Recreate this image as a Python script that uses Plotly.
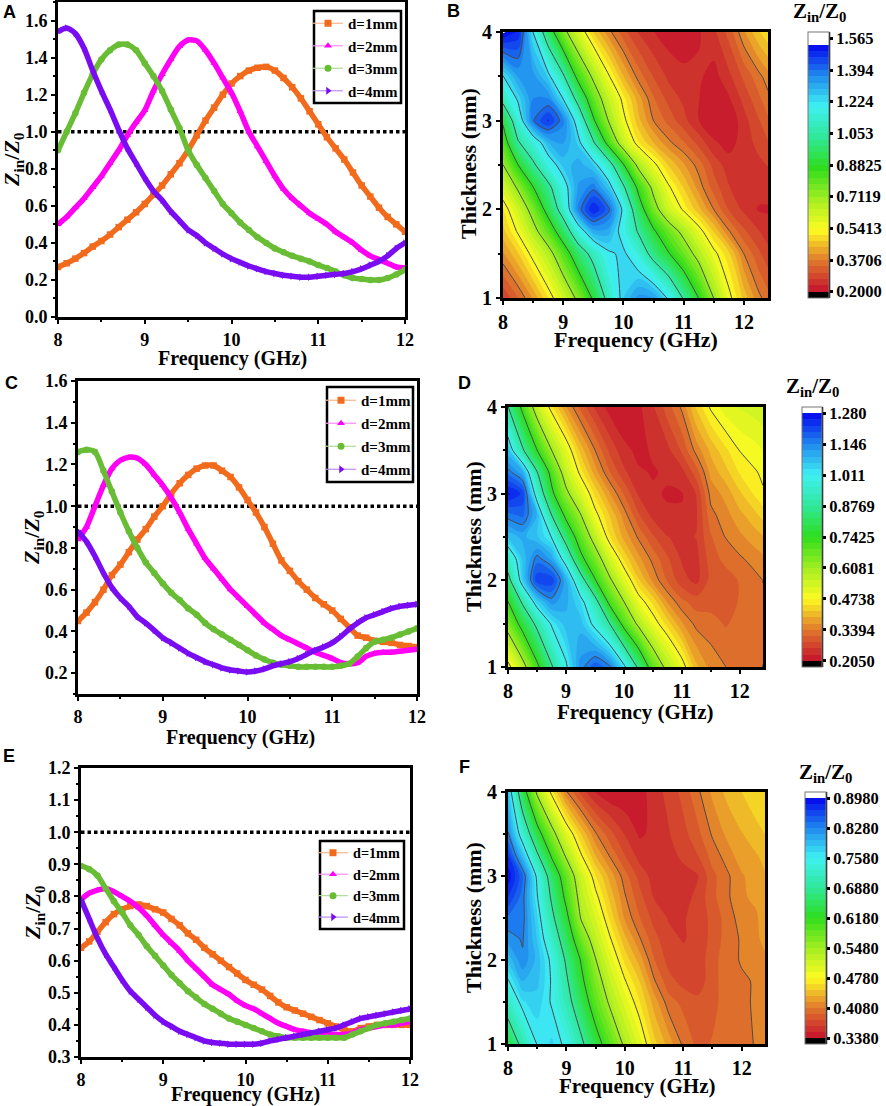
import plotly.graph_objects as go

W, H = 886, 1106

# Frequenz fuer die Linienplots
freq = [8.0, 8.1, 8.2, 8.3, 8.4, 8.5, 8.6, 8.7, 8.8, 8.9, 9.0, 9.1, 9.2, 9.3, 9.4, 9.5, 9.6, 9.7, 9.8, 9.9, 10.0,
        10.1, 10.2, 10.3, 10.4, 10.5, 10.6, 10.7, 10.8, 10.9, 11.0, 11.1, 11.2, 11.3, 11.4, 11.5, 11.6, 11.7, 11.8, 11.9, 12.0]

# Panel A
a_d1 = [.27, .29, .315, .345, .38, .41, .445, .485, .525, .565, .61, .66, .71, .77, .83, .90, .98, 1.06, 1.13, 1.20, 1.26,
        1.30, 1.33, 1.345, 1.35, 1.33, 1.29, 1.24, 1.18, 1.11, 1.04, .97, .91, .85, .78, .71, .65, .59, .54, .50, .46]
a_d2 = [.50, .54, .59, .64, .70, .76, .83, .90, .98, 1.05, 1.115, 1.22, 1.31, 1.39, 1.46, 1.495, 1.49, 1.44, 1.37, 1.29, 1.21,
        1.11, 1.00, .92, .84, .76, .69, .64, .60, .56, .53, .50, .46, .43, .40, .36, .33, .31, .29, .27, .265]
a_d3 = [.90, 1.00, 1.10, 1.21, 1.31, 1.39, 1.44, 1.47, 1.47, 1.44, 1.37, 1.30, 1.22, 1.12, 1.02, .90, .82, .75, .68, .61, .56,
        .51, .47, .43, .40, .37, .35, .33, .315, .30, .28, .265, .245, .225, .21, .205, .20, .20, .21, .23, .255]
a_d4 = [1.54, 1.56, 1.53, 1.45, 1.33, 1.22, 1.12, 1.01, .91, .83, .75, .68, .63, .57, .52, .47, .44, .40, .37, .34, .315,
        .295, .275, .26, .245, .235, .225, .22, .215, .215, .22, .225, .23, .235, .245, .26, .28, .30, .33, .37, .40]

# Panel C
c_d1 = [.45, .49, .54, .60, .67, .72, .78, .84, .89, .95, 1.00, 1.06, 1.11, 1.15, 1.18, 1.195, 1.195, 1.17, 1.14, 1.09, 1.03,
        .97, .90, .82, .74, .69, .64, .60, .56, .53, .50, .46, .42, .38, .37, .355, .35, .345, .335, .33, .325]
c_d2 = [.84, .90, 1.00, 1.10, 1.18, 1.22, 1.235, 1.23, 1.20, 1.15, 1.10, 1.04, .97, .89, .82, .75, .70, .65, .60, .56, .52,
        .48, .44, .41, .38, .36, .34, .32, .30, .285, .27, .25, .245, .25, .28, .295, .30, .30, .305, .31, .315]
c_d3 = [1.26, 1.27, 1.26, 1.17, 1.07, .97, .88, .80, .73, .68, .63, .585, .55, .51, .48, .44, .41, .385, .36, .335, .31,
        .285, .265, .25, .24, .235, .23, .23, .23, .23, .23, .235, .245, .28, .32, .35, .36, .37, .385, .40, .415]
c_d4 = [.88, .83, .76, .68, .61, .56, .52, .47, .44, .405, .37, .345, .32, .295, .275, .255, .24, .225, .215, .21, .205,
        .21, .22, .235, .245, .255, .27, .29, .31, .325, .345, .375, .41, .44, .465, .48, .495, .51, .52, .525, .53]

# Panel E
e_d1 = [.64, .66, .69, .72, .745, .76, .77, .775, .77, .76, .75, .73, .71, .685, .665, .64, .62, .60, .58, .56, .54,
        .525, .51, .49, .47, .455, .445, .435, .425, .415, .405, .395, .385, .38, .39, .395, .40, .40, .40, .40, .40]
e_d2 = [.79, .81, .82, .825, .815, .80, .785, .765, .74, .71, .68, .655, .63, .60, .575, .55, .525, .51, .495, .475, .46,
        .45, .435, .42, .405, .395, .385, .38, .375, .375, .37, .37, .37, .375, .385, .39, .395, .40, .40, .405, .41]
e_d3 = [.895, .885, .865, .825, .785, .75, .71, .68, .645, .615, .585, .555, .53, .505, .485, .465, .45, .435, .42, .41, .40,
        .39, .38, .37, .365, .36, .36, .36, .36, .36, .36, .36, .36, .37, .38, .39, .40, .405, .41, .415, .42]
e_d4 = [.79, .73, .67, .62, .58, .54, .505, .48, .455, .43, .41, .395, .38, .37, .36, .35, .345, .343, .34, .34, .34,
        .34, .343, .35, .355, .36, .365, .37, .375, .38, .385, .39, .40, .41, .42, .425, .43, .435, .44, .445, .45]

# Gitter fuer die Konturplots
grid_f = [8, 8.25, 8.5, 8.75, 9, 9.25, 9.5, 9.75, 10, 10.25, 10.5, 10.75, 11, 11.25, 11.5, 11.75, 12, 12.25, 12.4]
grid_t = [1, 1.5, 1.75, 2, 2.25, 2.5, 2.75, 3, 3.25, 3.5, 4]

b_z = [
    [.27, .335, .41, .505, .61, .74, .90, 1.10, 1.26, 1.34, 1.33, 1.21, 1.04, .88, .71, .56, .46, .38, .35],
    [.40, .47, .565, .665, .81, .97, 1.10, 1.21, 1.24, 1.15, 1.00, .89, .78, .67, .56, .48, .37, .31, .28],
    [.46, .55, .67, .80, .96, 1.16, 1.31, 1.31, 1.18, 1.04, .90, .78, .68, .57, .47, .375, .31, .27, .25],
    [.50, .62, .76, .93, 1.12, 1.37, 1.50, 1.41, 1.20, .95, .76, .62, .53, .45, .37, .30, .26, .23, .23],
    [.60, .73, .88, 1.02, 1.18, 1.33, 1.38, 1.27, 1.07, .85, .68, .55, .47, .39, .32, .27, .25, .25, .25],
    [.71, .88, 1.03, 1.17, 1.27, 1.31, 1.26, 1.12, .89, .68, .56, .47, .41, .355, .29, .25, .25, .26, .27],
    [.81, 1.04, 1.15, 1.29, 1.33, 1.25, 1.07, .84, .64, .51, .44, .38, .34, .29, .24, .22, .25, .28, .30],
    [.90, 1.15, 1.39, 1.47, 1.37, 1.17, .90, .71, .56, .45, .37, .325, .28, .235, .205, .205, .255, .30, .33],
    [1.10, 1.24, 1.36, 1.36, 1.22, 1.00, .79, .64, .52, .42, .34, .29, .26, .235, .215, .23, .28, .33, .36],
    [1.22, 1.33, 1.34, 1.25, 1.07, .84, .69, .55, .44, .355, .30, .26, .24, .24, .22, .26, .31, .36, .39],
    [1.54, 1.49, 1.22, .96, .75, .60, .47, .385, .315, .265, .235, .215, .22, .23, .26, .315, .40, .47, .50],
]
d_z = [
    [.45, .57, .72, .865, 1.00, 1.13, 1.195, 1.155, 1.03, .86, .69, .58, .50, .40, .355, .34, .325, .33, .34],
    [.65, .78, .90, 1.02, 1.08, 1.08, .99, .88, .71, .59, .50, .435, .37, .33, .325, .31, .32, .33, .33],
    [.74, .89, 1.05, 1.13, 1.10, 1.04, .92, .72, .61, .50, .44, .365, .32, .30, .30, .30, .315, .33, .335],
    [.84, 1.05, 1.22, 1.22, 1.10, .93, .75, .625, .52, .425, .36, .31, .27, .25, .295, .30, .315, .33, .34],
    [.94, 1.07, 1.16, 1.11, .97, .77, .66, .54, .44, .375, .33, .29, .255, .25, .30, .32, .335, .35, .36],
    [1.07, 1.10, 1.07, 1.01, .83, .69, .57, .45, .385, .335, .29, .26, .25, .26, .31, .34, .36, .38, .39],
    [1.16, 1.18, 1.09, .88, .72, .615, .49, .42, .355, .29, .25, .235, .235, .255, .33, .355, .385, .41, .43],
    [1.26, 1.22, .97, .765, .63, .53, .44, .37, .31, .255, .235, .23, .23, .26, .35, .375, .415, .45, .47],
    [1.16, 1.10, .88, .71, .56, .46, .38, .315, .265, .235, .23, .235, .25, .30, .375, .41, .45, .47, .48],
    [1.07, .89, .745, .61, .51, .41, .34, .28, .24, .225, .235, .25, .29, .35, .40, .44, .475, .49, .50],
    [.88, .72, .56, .455, .37, .305, .255, .22, .205, .225, .255, .30, .345, .425, .48, .515, .53, .54, .55],
]
f_z = [
    [.64, .705, .76, .775, .75, .70, .64, .59, .54, .50, .455, .43, .405, .39, .395, .40, .40, .41, .42],
    [.72, .77, .78, .755, .71, .65, .59, .54, .50, .465, .43, .40, .39, .385, .39, .40, .405, .41, .42],
    [.755, .80, .79, .755, .695, .63, .57, .52, .48, .45, .41, .385, .375, .37, .39, .40, .405, .41, .42],
    [.79, .825, .795, .75, .68, .615, .55, .50, .46, .43, .395, .375, .37, .37, .39, .40, .41, .415, .42],
    [.82, .83, .785, .725, .655, .58, .525, .48, .44, .41, .385, .37, .365, .37, .385, .40, .41, .42, .425],
    [.84, .835, .775, .70, .63, .545, .505, .46, .42, .395, .375, .365, .365, .37, .385, .40, .415, .42, .43],
    [.87, .835, .76, .68, .605, .53, .485, .445, .41, .385, .365, .36, .36, .37, .39, .405, .42, .425, .43],
    [.895, .845, .75, .66, .585, .515, .465, .43, .40, .375, .36, .36, .36, .365, .39, .405, .42, .43, .435],
    [.87, .79, .695, .61, .54, .48, .435, .405, .38, .36, .355, .36, .37, .38, .40, .415, .43, .435, .44],
    [.83, .735, .64, .565, .50, .45, .41, .385, .365, .35, .355, .365, .375, .39, .41, .425, .435, .445, .45],
    [.79, .645, .54, .47, .41, .375, .35, .34, .34, .345, .36, .37, .385, .405, .425, .44, .45, .46, .46],
]

# Farbskalen-Beschriftung
b_ticks = ["0.2000", "0.3706", "0.5413", "0.7119", "0.8825", "1.053", "1.224", "1.394", "1.565"]
d_ticks = ["0.2050", "0.3394", "0.4738", "0.6081", "0.7425", "0.8769", "1.011", "1.146", "1.280"]
f_ticks = ["0.3380", "0.4080", "0.4780", "0.5480", "0.6180", "0.6880", "0.7580", "0.8280", "0.8980"]

legend_names = ["d=1mm", "d=2mm", "d=3mm", "d=4mm"]
line_colors = ["#f26a1c", "#ff00f5", "#68bd35", "#7a0cf2"]
pale_colors = ["#f9b48c", "#ff8cf8", "#b0dc98", "#bc8cf8"]
symbols = ["square", "triangle-up", "circle", "triangle-right"]
rainbow = ["#c5122d", "#e0782c", "#fdfb22", "#a2ee22", "#2fdd1c", "#2fe89a", "#3ff0f2", "#1f88ee", "#0404ee"]

SERIF = "Liberation Serif"
SANS = "Liberation Sans"


def dom_x(l, r):
    return [l / W, r / W]


def dom_y(t, b):
    return [1 - b / H, 1 - t / H]


fig = go.Figure()
layout = {}
annots = []
shapes = []


def text(x, y, s, size, family=SERIF, angle=0):
    annots.append(dict(x=x / W, y=1 - y / H, xref="paper", yref="paper", text=s, showarrow=False,
                       xanchor="center", yanchor="middle", textangle=angle,
                       font=dict(family=family, size=size, color="black", weight="bold")))


def axes(n, box, xr, yr, xd, yd, ymin, size):
    l, t, r, b = box
    sx = "" if n == 1 else str(n)
    common = dict(showgrid=False, zeroline=False, showline=True, linecolor="black", linewidth=3, mirror=True,
                  ticks="outside", ticklen=4, tickwidth=2, tickcolor="black",
                  tickfont=dict(family=SERIF, size=size, color="black", weight="bold"))
    layout["xaxis" + sx] = dict(domain=dom_x(l, r), range=xr, anchor="y" + sx, tick0=8, dtick=xd,
                                minor=dict(dtick=xd / 2, tick0=8, ticks="outside", ticklen=2, tickwidth=1.5, tickcolor="black"),
                                **common)
    layout["yaxis" + sx] = dict(domain=dom_y(t, b), range=yr, anchor="x" + sx, tick0=ymin, dtick=yd,
                                tickformat=".1f" if yd < 1 else "d",
                                minor=dict(dtick=yd / 2, tick0=ymin, ticks="outside", ticklen=2, tickwidth=1.5, tickcolor="black"),
                                **common)


def line_panel(n, box, yr, yd, ymin, series, legend_key, legend_box, legend_pos, gap, lsize):
    axes(n, box, [8, 12], yr, 1, yd, ymin, 18)
    sx = "" if n == 1 else str(n)
    fig.add_trace(go.Scatter(x=[8, 12], y=[1, 1], xaxis="x" + sx, yaxis="y" + sx, mode="lines", showlegend=False,
                             line=dict(color="black", width=3.5, dash="3.5px,3px"), hoverinfo="skip"))
    for i, vals in enumerate(series):
        fig.add_trace(go.Scatter(x=freq, y=vals, xaxis="x" + sx, yaxis="y" + sx, mode="lines+markers", showlegend=False,
                                 line=dict(color=line_colors[i], width=5.5, shape="spline", smoothing=0.7),
                                 marker=dict(symbol=symbols[i], color=line_colors[i], size=6.5)))
    # Legende nur mit duennen Linien und kleinen Markern
    for i, name in enumerate(legend_names):
        fig.add_trace(go.Scatter(x=[None], y=[None], xaxis="x" + sx, yaxis="y" + sx, mode="lines+markers", name=name,
                                 legend=legend_key, legendgroup=legend_key + name,
                                 line=dict(color=pale_colors[i], width=1.2),
                                 marker=dict(symbol=symbols[i], color=line_colors[i], size=7)))
    layout[legend_key] = dict(x=legend_pos[0] / W, y=1 - legend_pos[1] / H, xanchor="left", yanchor="top",
                              bgcolor="rgba(0,0,0,0)", borderwidth=0, tracegroupgap=gap, itemwidth=30,
                              font=dict(family=SERIF, size=lsize, color="black", weight="bold"))
    # Rahmen der Legende als eigenes Rechteck, plotly laesst die Hoehe sonst nicht einstellen
    lx0, ly0, lx1, ly1 = legend_box
    shapes.append(dict(type="rect", xref="paper", yref="paper", x0=lx0 / W, x1=lx1 / W, y0=1 - ly0 / H, y1=1 - ly1 / H,
                       line=dict(color="black", width=2.5)))


def contour_panel(n, box, z, tick_labels, zlow, zhigh, cbar_box, tsize):
    axes(n, box, [8, 12.4], [1, 4], 1, 1, 1, tsize)
    sx = str(n)
    step = (zhigh - zlow) / 8
    band = step / 5
    lo = zlow - band
    hi = zhigh + band
    span = hi - lo
    # schwarz unten, weiss oben, dazwischen der Regenbogen
    scale = [[0, "#000000"], [band / span, "#000000"]]
    for i, c in enumerate(rainbow):
        scale.append([(band + i * step) / span, c])
    scale += [[(band + 8 * step) / span, "#ffffff"], [1, "#ffffff"]]
    cl, ct, cr, cb = cbar_box
    fig.add_trace(go.Contour(x=grid_f, y=grid_t, z=z, xaxis="x" + sx, yaxis="y" + sx, zmin=lo, zmax=hi,
                             colorscale=scale, autocontour=False, line_width=0, hoverinfo="skip", showlegend=False,
                             contours=dict(coloring="fill", showlines=False, start=lo, end=hi, size=band),
                             colorbar=dict(x=cl / W, xanchor="left", xpad=0, thickness=cr - cl, thicknessmode="pixels",
                                           y=1 - cb / H, yanchor="bottom", ypad=0, len=(cb - ct) / H, lenmode="fraction",
                                           outlinewidth=1, outlinecolor="#777777", bordercolor="rgba(0,0,0,0)",
                                           tickmode="array", tickvals=[zlow + k * step for k in range(9)], ticktext=tick_labels,
                                           ticks="outside", ticklen=4, tickwidth=3, tickcolor="black",
                                           tickfont=dict(family=SERIF, size=16.5, color="black", weight="bold"))))
    fig.add_trace(go.Contour(x=grid_f, y=grid_t, z=z, xaxis="x" + sx, yaxis="y" + sx, showscale=False, autocontour=False,
                             hoverinfo="skip", showlegend=False, line=dict(color="#4a4a4a", width=1, smoothing=0.6),
                             contours=dict(coloring="none", start=zlow + step, end=zhigh - step, size=step)))
    shapes.append(dict(type="line", xref="paper", yref="paper", x0=cr / W, x1=cr / W, y0=1 - ct / H, y1=1 - cb / H,
                       line=dict(color="black", width=2.5)))


line_panel(1, (58, 2, 405, 317), [0, 1.7], 0.2, 0, [a_d1, a_d2, a_d3, a_d4], "legend", (314, 11, 401, 103), (308, 7), 0, 15)
contour_panel(2, (503, 32, 768, 298), b_z, b_ticks, 0.2, 1.565, (808, 32, 829, 298), 20)
line_panel(3, (78, 381, 417, 694), [0.1, 1.6], 0.2, 0.2, [c_d1, c_d2, c_d3, c_d4], "legend2", (327, 387, 413, 482), (321, 384), 0.5, 15)
contour_panel(4, (508, 407, 763, 667), d_z, d_ticks, 0.205, 1.28, (802, 407, 822, 667), 20)
line_panel(5, (81, 768, 410, 1057), [0.3, 1.2], 0.1, 0.3, [e_d1, e_d2, e_d3, e_d4], "legend3", (320, 841, 404, 929), (313, 837), 0, 14.2)
contour_panel(6, (508, 792, 765, 1044), f_z, f_ticks, 0.338, 0.898, (805, 792, 826, 1044), 20)

# Achsentitel
Z_I = "<i>Z</i><sub>in</sub>/<i>Z</i><sub>0</sub>"
Z_R = "Z<sub>in</sub>/Z<sub>0</sub>"
text(232, 358, "Frequency (GHz)", 20)
text(636, 340, "Frequency (GHz)", 22)
text(240, 737, "Frequency (GHz)", 20)
text(635, 712, "Frequency (GHz)", 21)
text(246, 1094, "Frequency (GHz)", 20)
text(637, 1086, "Frequency (GHz)", 21)
text(468, 164, "Thickness (mm)", 22, angle=-90)
text(473, 537, "Thickness (mm)", 22, angle=-90)
text(473, 918, "Thickness (mm)", 22, angle=-90)
text(13, 160, Z_I, 22, angle=-90)
text(33, 538, Z_I, 22, angle=-90)
text(34, 913, Z_I, 22, angle=-90)
text(819, 12, Z_R, 21)
text(812, 387, Z_R, 21)
text(825, 773, Z_R, 21)

# Panelbuchstaben
for x, y, s in [(9, 12, "A"), (453, 11, "B"), (11, 383, "C"), (464, 383, "D"), (9, 756, "E"), (464, 767, "F")]:
    text(x, y, s, 18, family=SANS)

fig.update_layout(width=W, height=H, margin=dict(l=0, r=0, t=0, b=0, autoexpand=False), paper_bgcolor="white",
                  plot_bgcolor="white", autosize=False, annotations=annots, shapes=shapes, **layout)

fig.write_html("out.html", config=dict(displayModeBar=False), post_script="document.body.style.margin='0';")
